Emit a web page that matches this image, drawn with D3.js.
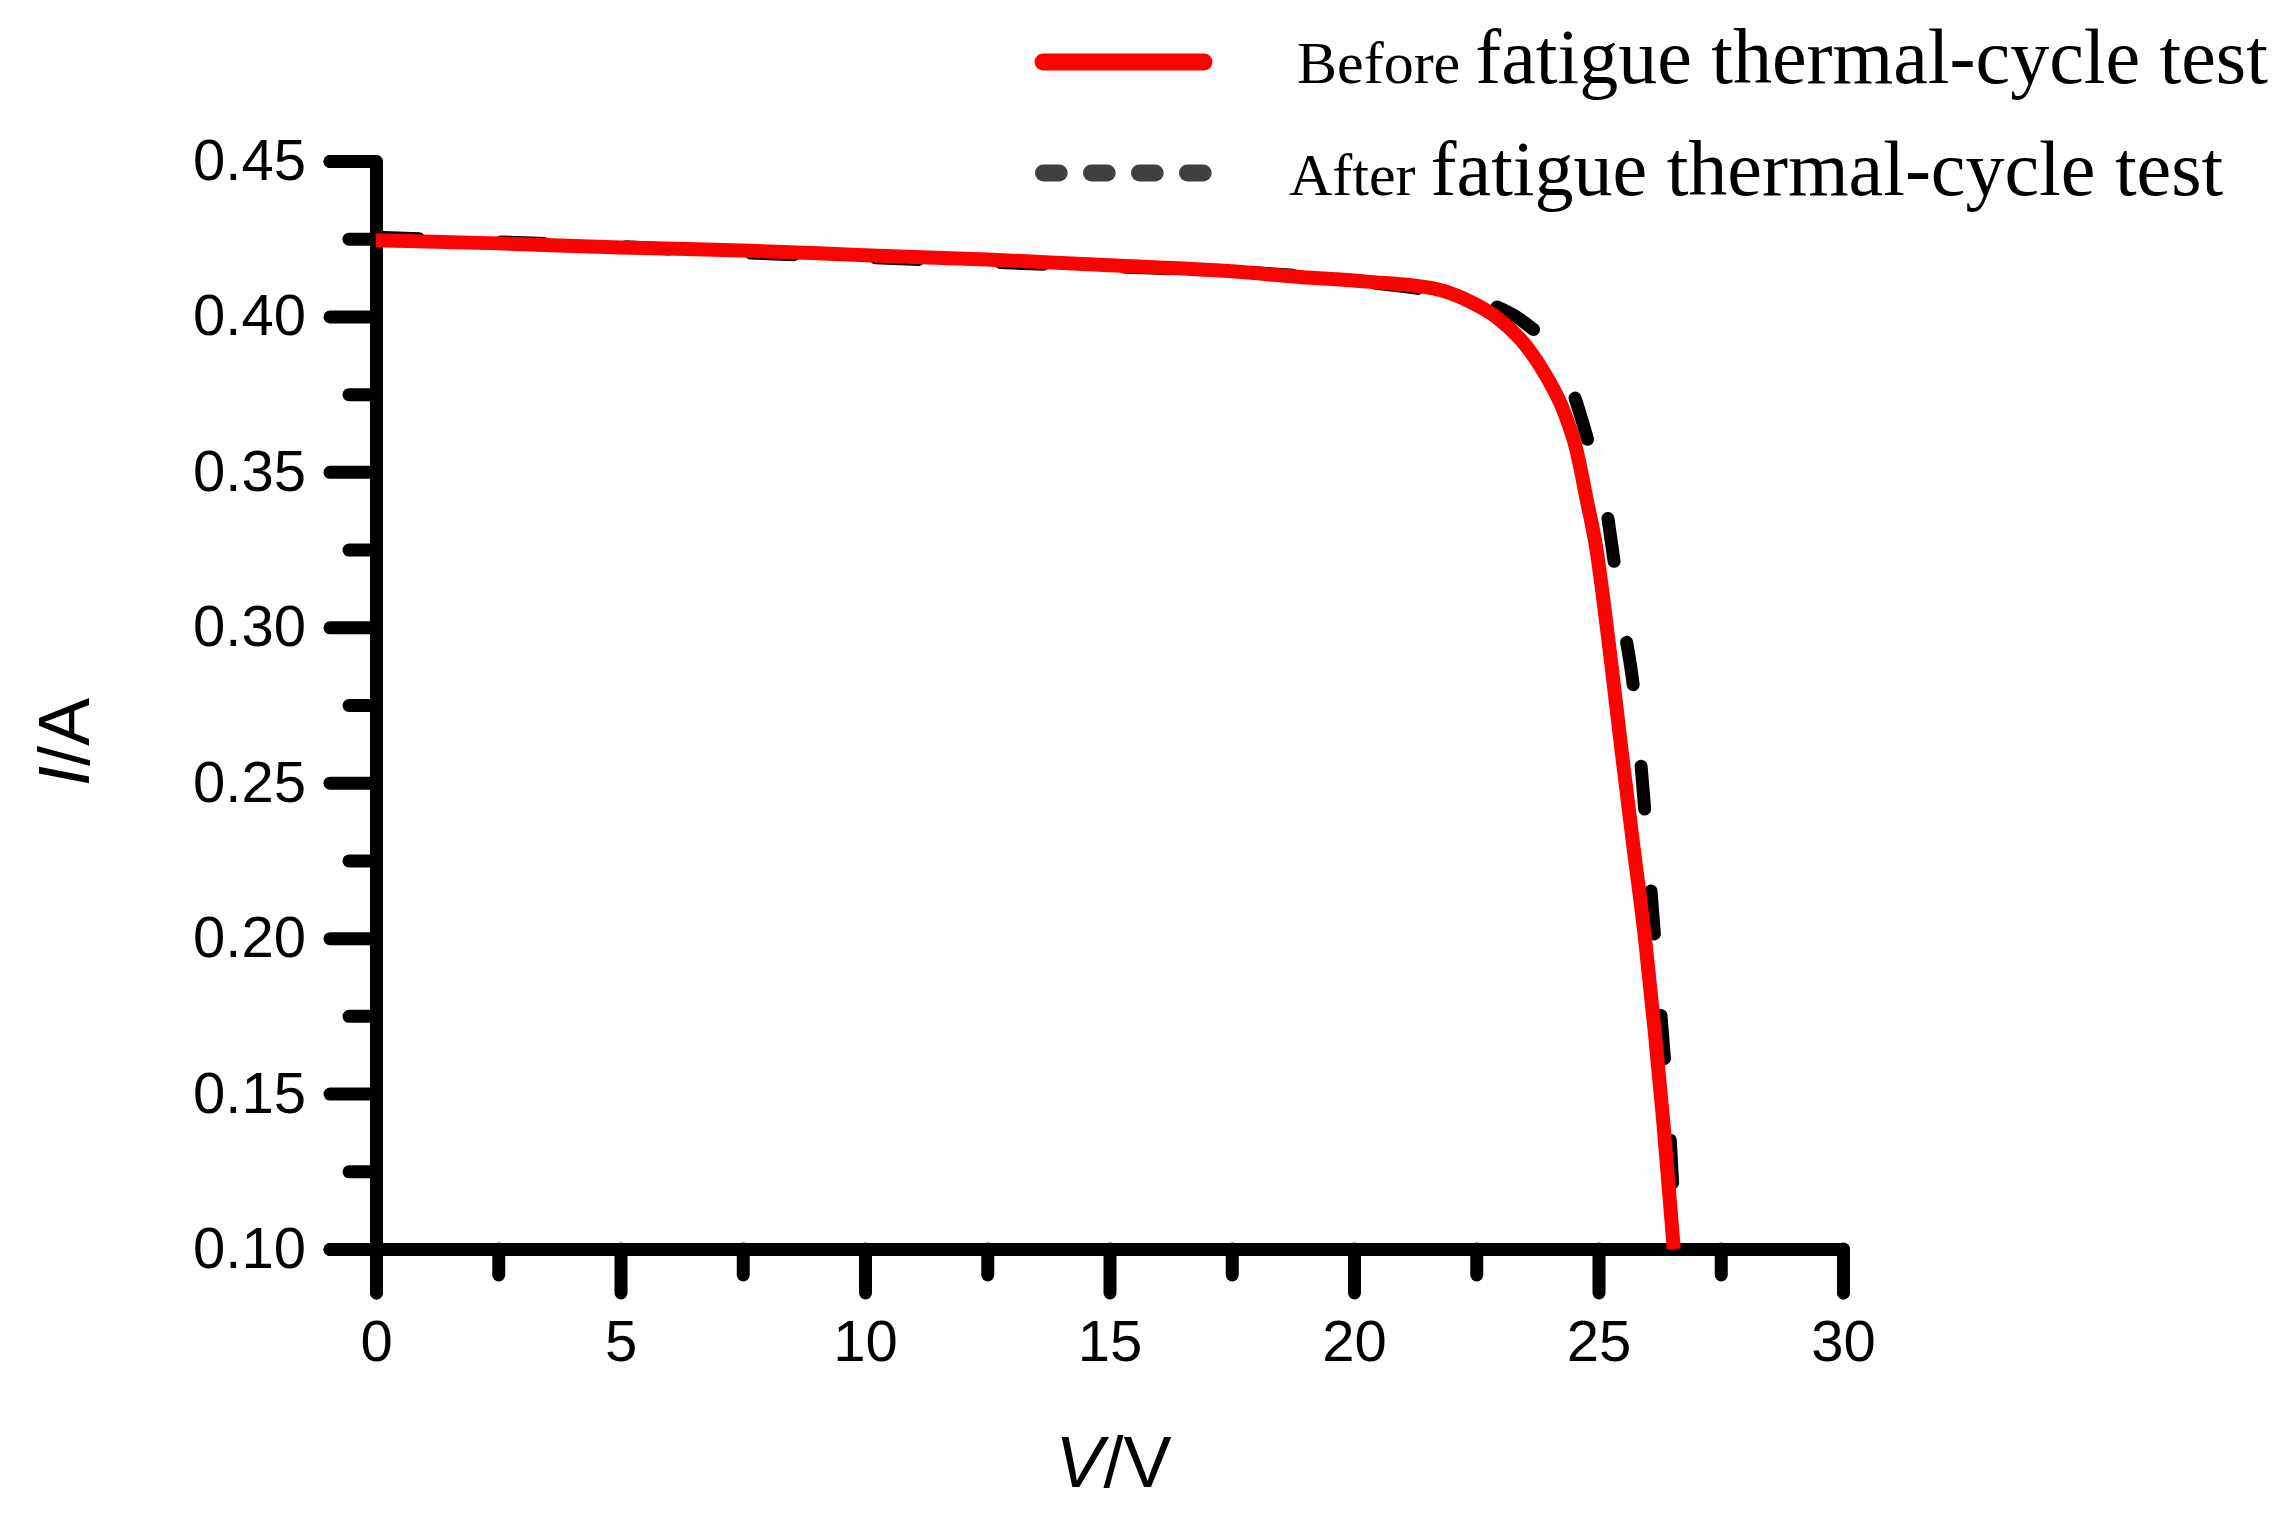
<!DOCTYPE html>
<html>
<head>
<meta charset="utf-8">
<script src="https://cdn.jsdelivr.net/npm/d3@7"></script>
<style>
  body { margin: 0; background: #fff; }
  svg { display: block; }
</style>
</head>
<body>
<svg id="chart" width="2286" height="1514"></svg>
<script>
'use strict';

// I-V curves of the module
const beforeV = [0, 2.5, 5, 7.5, 10, 12.5, 15, 17.5, 18.9, 20.26, 21.62, 22.3, 22.98, 23.53, 23.94, 24.28, 24.55, 24.76, 24.96, 25.1, 25.27, 25.47, 25.71, 25.95, 26.15, 26.33, 26.54];
const beforeI = [0.4245, 0.4235, 0.4222, 0.4212, 0.4197, 0.4183, 0.4165, 0.4145, 0.4127, 0.4112, 0.4090, 0.4053, 0.3989, 0.3903, 0.3806, 0.3699, 0.3570, 0.3409, 0.3249, 0.3088, 0.2873, 0.2605, 0.2300, 0.2000, 0.1700, 0.1400, 0.1000];

const afterV = [0, 2.5, 5, 7.5, 10, 12.5, 15, 17.5, 20, 21.5, 22.6, 23.6, 24.1, 24.45, 24.79, 25.16, 25.33, 25.54, 25.71, 25.9, 26.05, 26.2, 26.33, 26.45, 26.52, 26.58];
const afterI = [0.4255, 0.4240, 0.4225, 0.4205, 0.4190, 0.4175, 0.4160, 0.4145, 0.4115, 0.4085, 0.4050, 0.3967, 0.3890, 0.3769, 0.3597, 0.3383, 0.3200, 0.2986, 0.2814, 0.2500, 0.2200, 0.1900, 0.1650, 0.1400, 0.1200, 0.1000];

const xTicks = [0, 5, 10, 15, 20, 25, 30];
const xMinor = [2.5, 7.5, 12.5, 17.5, 22.5, 27.5];
const yTicks = [0.10, 0.15, 0.20, 0.25, 0.30, 0.35, 0.40, 0.45];
const yMinor = [0.125, 0.175, 0.225, 0.275, 0.325, 0.375, 0.425];

const legendNames = ["Before", "After"];
const legendRest = "fatigue thermal-cycle test";

const svg = d3.select("#chart");
svg.append("rect").attr("width", 2286).attr("height", 1514).attr("fill", "#fff");

const x = d3.scaleLinear().domain([0, 30]).range([376, 1843]);
const y = d3.scaleLinear().domain([0.10, 0.45]).range([1249, 161]);

const sans = "'Liberation Sans', Arial, sans-serif";
const serif = "'Liberation Serif', 'Times New Roman', serif";

function styleAxis(g, label) {
    g.select(".domain").attr("stroke", "#000").attr("stroke-width", 13)
        .attr("stroke-linejoin", "round").attr("stroke-linecap", "round");
    g.selectAll(".tick line").attr("stroke", "#000").attr("stroke-width", 13)
        .attr("stroke-linecap", "round");
    g.selectAll(".tick text").attr("font-family", sans).attr("font-size", 58).attr("fill", "#000");
    if (!label) g.selectAll(".tick text").remove();
}

// minor ticks first, then majors with labels
svg.append("g").attr("transform", `translate(0,${y(0.10)})`)
    .call(d3.axisBottom(x).tickValues(xMinor).tickSize(26).tickSizeOuter(0))
    .call(g => { styleAxis(g, false); g.select(".domain").remove(); });
svg.append("g").attr("transform", `translate(${x(0)},0)`)
    .call(d3.axisLeft(y).tickValues(yMinor).tickSize(27).tickSizeOuter(0))
    .call(g => { styleAxis(g, false); g.select(".domain").remove(); });

svg.append("g").attr("transform", `translate(0,${y(0.10)})`)
    .call(d3.axisBottom(x).tickValues(xTicks).tickSize(44).tickSizeOuter(44).tickPadding(27)
        .tickFormat(d3.format("d")))
    .call(g => styleAxis(g, true));
svg.append("g").attr("transform", `translate(${x(0)},0)`)
    .call(d3.axisLeft(y).tickValues(yTicks).tickSize(46).tickSizeOuter(46).tickPadding(24)
        .tickFormat(d3.format(".2f")))
    .call(g => styleAxis(g, true));

// axis titles
const xt = svg.append("text").attr("x", (x(0) + x(30)) / 2 + 4).attr("y", 1487)
    .attr("text-anchor", "middle").attr("font-family", sans).attr("font-size", 72);
xt.append("tspan").attr("font-style", "italic").text("V");
xt.append("tspan").text("/V");

const yt = svg.append("text").attr("transform", "translate(89,742) rotate(-90)")
    .attr("text-anchor", "middle").attr("font-family", sans).attr("font-size", 72);
yt.append("tspan").attr("font-style", "italic").text("I");
yt.append("tspan").text("/A");

// curves
const line = d3.line().x(d => x(d[0])).y(d => y(d[1])).curve(d3.curveMonotoneX);
const after = afterV.map((v, i) => [v, afterI[i]]);
const before = beforeV.map((v, i) => [v, beforeI[i]]);

svg.append("path").datum(after).attr("d", line)
    .attr("fill", "none").attr("stroke", "#000").attr("stroke-width", 13)
    .attr("stroke-linecap", "round").attr("stroke-dasharray", "43 82");
svg.append("path").datum(before).attr("d", line)
    .attr("fill", "none").attr("stroke", "#ff0000").attr("stroke-width", 14);

// legend
const leg = svg.append("g");
leg.append("line").attr("x1", 1043).attr("x2", 1204).attr("y1", 62).attr("y2", 62)
    .attr("stroke", "#ff0000").attr("stroke-width", 17).attr("stroke-linecap", "round");
leg.append("line").attr("x1", 1043.5).attr("x2", 1204).attr("y1", 173).attr("y2", 173)
    .attr("stroke", "#404040").attr("stroke-width", 17).attr("stroke-linecap", "round")
    .attr("stroke-dasharray", "15.7 32.3");

const legX = [1297, 1289];
const legY = [83, 195];
legendNames.forEach((name, i) => {
    const t = leg.append("text").attr("x", legX[i]).attr("y", legY[i])
        .attr("font-family", serif).attr("fill", "#000");
    t.append("tspan").attr("font-size", 60).text(name + " ");
    t.append("tspan").attr("font-size", 78).text(legendRest);
});
</script>
</body>
</html>
